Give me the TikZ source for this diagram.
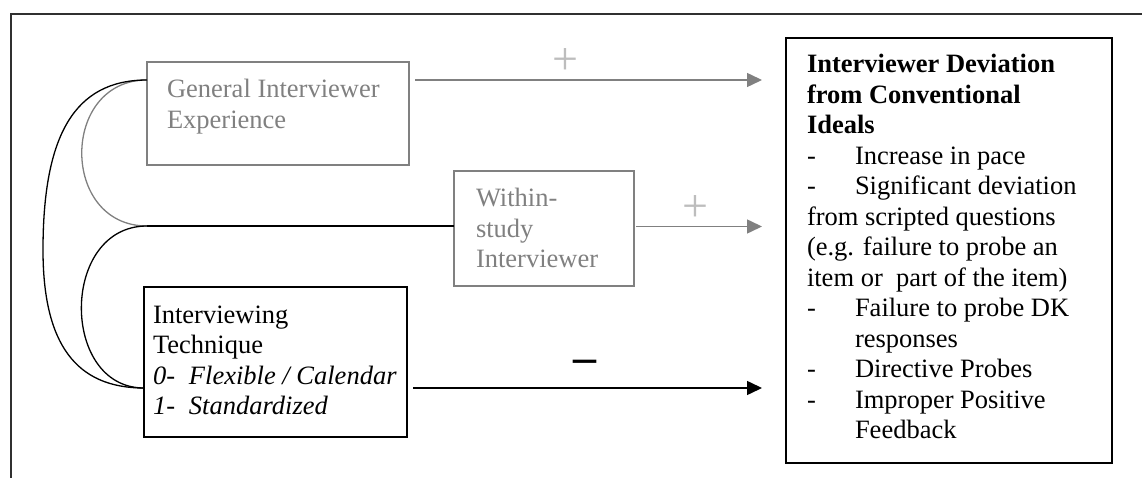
\documentclass[tikz,border=0pt]{standalone}
\usepackage{fontspec}
\setmainfont{Liberation Serif}
\usetikzlibrary{arrows.meta,calc}

\definecolor{linegray}{HTML}{808080}
\definecolor{signgray}{HTML}{BDBDBD}
\definecolor{framegray}{HTML}{303030}

% multi-line text block whose reference point is the first baseline
\newcommand\ptext[1]{\parbox[t]{330pt}{\fontsize{26.5}{30.5}\selectfont #1}}
\newcommand\dashcol{\makebox[48pt][l]{-}}
\newcommand\numcol[1]{\makebox[36pt][l]{#1}}

\tikzset{
  boxg/.style={draw=linegray, line width=1.4pt, inner sep=0pt, outer sep=0pt, anchor=north west},
  boxk/.style={draw=black, line width=1.8pt, inner sep=0pt, outer sep=0pt, anchor=north west},
  txt/.style={inner sep=0pt, outer sep=0pt, anchor=base west},
  gtxt/.style={txt, text=linegray},
  link/.style={line width=1.3pt},
  arr/.style={line width=1.5pt, -{Triangle[length=15pt,width=14pt]}},
  sign/.style={inner sep=0pt, font=\fontsize{46}{46}\selectfont},
}

\begin{document}
\begin{tikzpicture}[x=1pt,y=-1pt]
\useasboundingbox (0,0) rectangle (1142,478);

% page frame
\draw[framegray, line width=1.5pt] (11,478) -- (11,14) -- (1142,14);

% boxes
\node[boxg, minimum width=262pt, minimum height=103pt] (gen) at (147,62) {};
\node[boxg, minimum width=180pt, minimum height=115pt] (within) at (454,171) {};
\node[boxk, minimum width=263pt, minimum height=150pt] (tech) at (144,287) {};
\node[boxk, minimum width=326pt, minimum height=425pt] (dev) at (786,38) {};

% box texts
\node[gtxt] (gentext) at (167,98) {\ptext{General Interviewer\\Experience}};
\node[gtxt] (withintext) at (476,207) {\ptext{Within-\\study\\Interviewer}};
\node[txt] (techtext) at (153,323) {\ptext{Interviewing\\Technique\\
  \textit{\numcol{0-}Flexible / Calendar}\\
  \textit{\numcol{1-}Standardized}}};
\node[txt] (devtext) at (807,73) {\ptext{%
  \textbf{Interviewer Deviation}\\
  \textbf{from Conventional}\\
  \textbf{Ideals}\\
  \dashcol Increase in pace\\
  \dashcol Significant deviation\\
  from scripted questions\\
  (e.g. failure to probe an\\
  item or\ \ part of the item)\\
  \dashcol Failure to probe DK\\
  \hspace*{48pt}responses\\
  \dashcol Directive Probes\\
  \dashcol Improper Positive\\
  \hspace*{48pt}Feedback}};

% connection points
\coordinate (genL) at ($(gen.north west)+(0,18)$);
\coordinate (genR) at ($(gen.north east)+(6,18)$);
\coordinate (withinL) at ($(within.north west)+(0,55)$);
\coordinate (withinR) at ($(within.north east)+(2,55.5)$);
\coordinate (junc) at (genL |- withinL);
\coordinate (techL) at ($(tech.north west)+(0,101)$);
\coordinate (techR) at ($(tech.north east)+(6,101)$);
\coordinate (outerL) at (43,250);
\coordinate (dev1) at ($(dev.north west)+(-24,42)$);
\coordinate (dev2) at ($(dev.north west)+(-24,188.5)$);
\coordinate (dev3) at ($(dev.north west)+(-24,350)$);

% correlations
\draw[link, linegray] (genL) .. controls (60,80) and (60,226) .. (junc);
\draw[link] (junc) -- (withinL);
\draw[link] (junc) .. controls (60,226) and (60,388) .. (techL);
\draw[link] (genL) .. controls (74,80) and (43,136) .. (outerL)
  .. controls (43,344) and (76,388) .. (techL);

% effects
\draw[arr, linegray] (genR) -- (dev1);
\draw[arr, linegray] (withinR) -- (dev2);
\draw[arr] (techR) -- (dev3);

% signs
\node[sign, text=signgray] (plus1) at (565,62) {+};
\node[sign, text=signgray] (plus2) at (695,209) {+};
\node[sign] (minus) at (585,366) {\textbf{\textendash}};
\end{tikzpicture}
\end{document}
